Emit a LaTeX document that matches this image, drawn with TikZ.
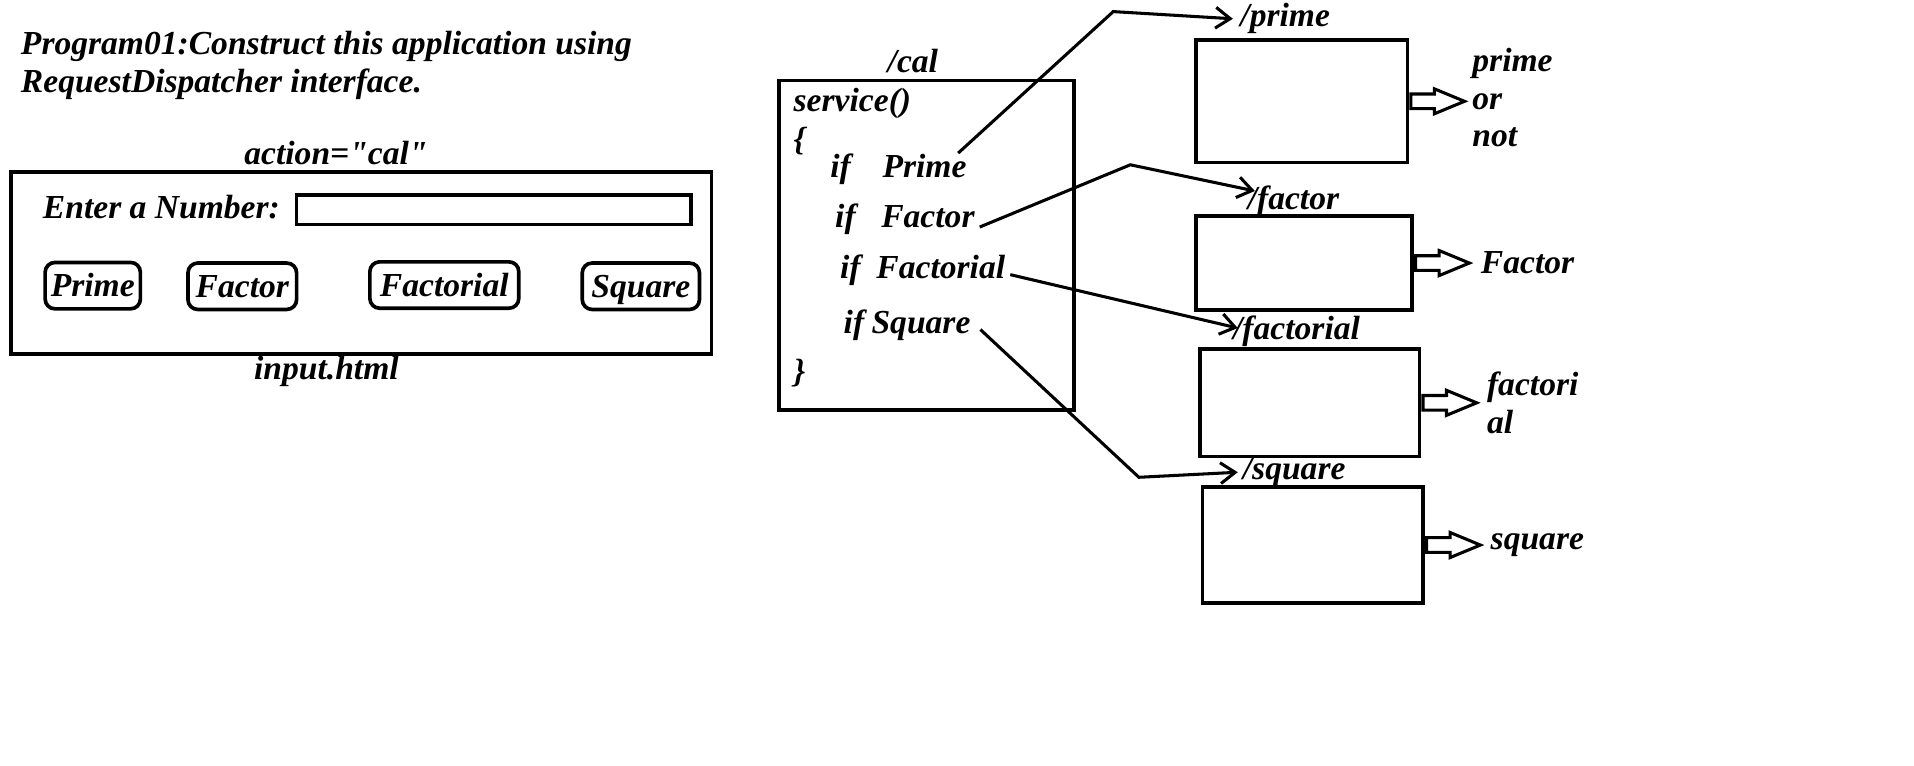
\documentclass[tikz,border=0pt]{standalone}
\usepackage{fontspec}
\newfontfamily\labelfont{Liberation Serif}
\usepackage{tikz}
\usetikzlibrary{arrows.meta,shapes.arrows,positioning}

\begin{document}
\begin{tikzpicture}[x=1pt, y=-1pt,
    every node/.style={font=\fontsize{27.5}{31}\labelfont\bfseries\itshape, inner sep=0pt},
    box/.style={draw, line width=3pt},
    button/.style={draw, line width=3pt, rounded corners=8pt, minimum height=38pt, text height=18pt, text depth=0pt},
    link/.style={line width=2.5pt, -{Straight Barb[length=12pt, width=17pt]}},
    hollow/.style={draw, line width=2.5pt, single arrow, minimum height=44pt, inner sep=4.75pt,
        single arrow head extend=4.25pt, single arrow tip angle=45}]
    \useasboundingbox (0,0) rectangle (1568,627);

    % Title
    \node[anchor=base west] (title1) at (17,45) {Program01:Construct this application using};
    \node[anchor=base west] (title2) at (17,76) {RequestDispatcher interface.};

    % The form of input.html
    \node[anchor=base west] (action) at (200,135) {action="cal"};
    \node[box, minimum width=574pt, minimum height=149pt] (form) at (296,215.5) {};
    \node[anchor=base west] (enter) at (35,179) {Enter a Number:};
    \node[box, minimum width=323pt, minimum height=24pt] (field) at (404.5,172) {};
    \node[button, minimum width=78pt] (bprime) at (76,234) {Prime};
    \node[button, minimum width=89pt] (bfactor) at (198.5,234.5) {Factor};
    \node[button, minimum width=122pt] (bfactorial) at (364,233.5) {Factorial};
    \node[button, minimum width=96pt] (bsquare) at (525,234.5) {Square};
    \node[anchor=base west] (input) at (208,311) {input.html};

    % The servlet behind /cal
    \node[anchor=base west] (lcal) at (727,59) {/cal};
    \node[box, minimum width=242pt, minimum height=270pt] (cal) at (759,201) {};
    \node[anchor=base west] (service) at (650,91.5) {service()};
    \node[anchor=base west] (open) at (650,123) {\{};
    \node[anchor=base west] (ifprime) at (680,145) {if\hspace{26pt}Prime};
    \node[anchor=base west] (iffactor) at (684,186) {if\hspace{21pt}Factor};
    \node[anchor=base west] (iffactorial) at (688,228) {if\hspace{13pt}Factorial};
    \node[anchor=base west] (ifsquare) at (691,273) {if\hspace{6pt}Square};
    \node[anchor=base west] (close) at (650,313) {\}};

    % The four servlets it dispatches to
    \node[anchor=base west] (lprime) at (1016,22) {/prime};
    \node[box, minimum width=173pt, minimum height=100pt] (b1) at (1066.5,83) {};
    \node[anchor=base west] (lfactor) at (1022,172) {/factor};
    \node[box, minimum width=177pt, minimum height=77pt] (b2) at (1068.5,215.5) {};
    \node[anchor=base west] (lfactorial) at (1010,278.5) {/factorial};
    \node[box, minimum width=180pt, minimum height=88pt] (b3) at (1073,330) {};
    \node[anchor=base west] (lsquare) at (1018,393) {/square};
    \node[box, minimum width=181pt, minimum height=95pt] (b4) at (1075.5,446.5) {};

    % Outputs
    \node[hollow, right=0pt of b1] (a1) {};
    \node[right=3pt of a1, yshift=3pt, align=left] (o1) {prime\\or\\not};
    \node[hollow, right=0pt of b2] (a2) {};
    \node[right=6pt of a2] (o2) {Factor};
    \node[hollow, right=0pt of b3] (a3) {};
    \node[right=5pt of a3, align=left] (o3) {factori\\al};
    \node[hollow, right=0pt of b4] (a4) {};
    \node[right=5pt of a4] (o4) {square};

    % Dispatch lines
    \draw[link] ([xshift=-7pt]ifprime.north east) -- (912,9.5) -- ([xshift=-6pt]lprime.west);
    \draw[link] ([xshift=4pt]iffactor.base east) -- (926,135) -- ([xshift=6pt,yshift=-4pt]lfactor.north west);
    \draw[link] ([xshift=4pt,yshift=3pt]iffactorial.base east) -- ([xshift=4pt,yshift=3pt]lfactorial.west);
    \draw[link] ([xshift=8pt,yshift=3pt]ifsquare.base east) -- (933,391) -- ([xshift=-4pt]lsquare.west);

\end{tikzpicture}
\end{document}
